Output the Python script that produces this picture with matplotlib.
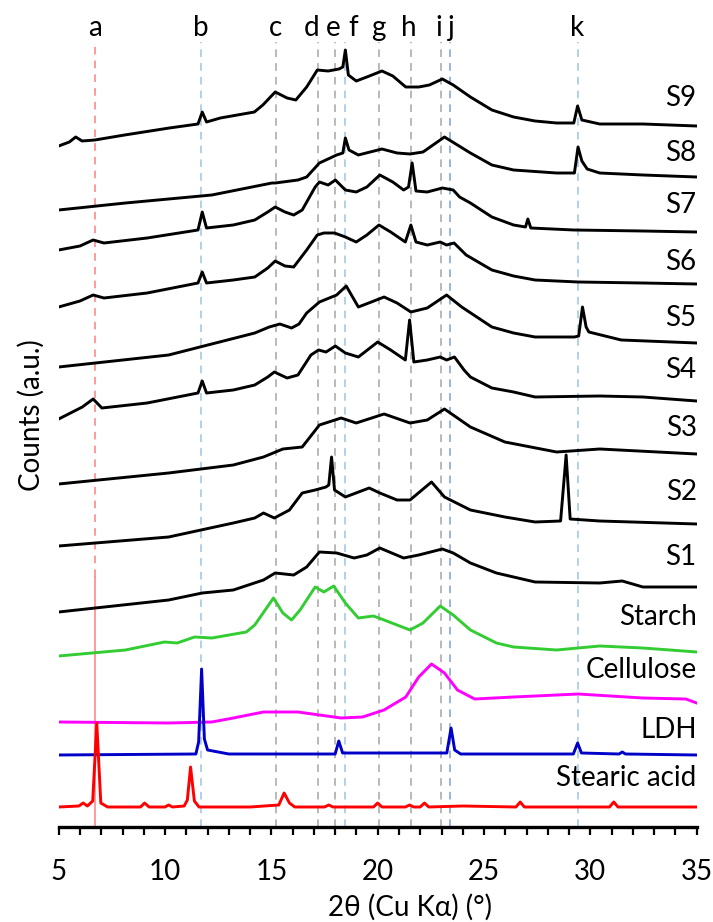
import matplotlib
matplotlib.use("Agg")
import matplotlib.pyplot as plt

plt.rcParams['font.family'] = ['Lato', 'DejaVu Sans']

# ---------------- data (stacked intensities, a.u.) ----------------
s9_x = [5.0, 5.5, 5.8, 6.1, 6.7, 8.1, 10.2, 11.55, 11.75, 11.95, 12.6, 14.2, 14.6, 15.18, 15.74, 16.15, 16.66,
        17.16, 17.67, 18.18, 18.36, 18.48, 18.62, 18.99, 19.49, 20.2, 20.71, 21.32, 21.93, 22.43, 23.04, 23.55,
        24.36, 25.37, 26.39, 27.4, 28.41, 29.22, 29.4, 29.6, 30.44, 32.47, 35.0]
s9_y = [681, 685, 690, 686, 687, 692, 699, 703, 715, 705, 709, 715, 722, 735, 729, 727, 740,
        757, 756, 758, 760, 777, 752, 746, 750, 756, 751, 740, 740, 742, 748, 742,
        730, 717, 710, 706, 704, 704, 721, 707, 703, 703, 701]

s8_x = [5.0, 8.14, 12.2, 15.03, 15.18, 16.25, 16.66, 17.26, 18.07, 18.36, 18.48, 18.65, 19.09, 20.2, 20.91,
        21.52, 22.13, 23.14, 24.36, 25.37, 26.39, 28.41, 29.25, 29.42, 29.6, 29.85, 30.44, 32.47, 35.0]
s8_y = [617, 624, 632, 644, 644, 647, 650, 664, 672, 674, 689, 677, 672, 678, 674,
        673, 675, 690, 674, 662, 657, 654, 654, 680, 666, 658, 654, 652, 650]

s7_x = [5.0, 6.0, 6.62, 7.13, 9.16, 11.55, 11.75, 11.95, 13.21, 14.22, 14.83, 15.18, 15.64, 16.05, 16.45,
        17.06, 17.26, 17.67, 18.01, 18.48, 18.99, 19.49, 20.1, 20.71, 21.22, 21.45, 21.62, 21.8, 22.33,
        23.04, 23.55, 23.85, 24.36, 25.37, 26.39, 26.95, 27.06, 27.2, 29.22, 32.47, 35.0]
s7_y = [577, 581, 587, 584, 589, 597, 615, 599, 602, 607, 615, 620, 615, 612, 617,
        640, 645, 642, 647, 637, 635, 640, 652, 645, 637, 640, 664, 636, 635,
        639, 637, 630, 624, 610, 602, 600, 608, 599, 597, 596, 595]

s6_x = [5.0, 6.0, 6.62, 7.13, 9.16, 11.55, 11.75, 11.95, 13.21, 14.22, 14.83, 15.18, 15.64, 16.05, 16.66,
        17.16, 17.47, 17.97, 18.48, 18.99, 19.49, 20.06, 20.61, 21.3, 21.56, 21.8, 22.33, 22.94, 23.24,
        23.59, 24.16, 25.37, 26.39, 27.4, 29.43, 32.47, 35.0]
s6_y = [520, 526, 532, 529, 534, 544, 555, 544, 547, 550, 559, 566, 561, 560, 577,
        592, 594, 594, 590, 585, 592, 602, 595, 585, 602, 585, 582, 585, 582,
        584, 572, 557, 551, 547, 545, 544, 543]

s5_x = [5.0, 10.17, 14.22, 14.9, 15.4, 15.95, 16.3, 16.66, 17.26, 18.07, 18.52, 19.09, 19.7, 20.3, 20.91,
        21.56, 22.33, 23.24, 23.95, 25.37, 26.39, 27.4, 29.25, 29.45, 29.63, 29.8, 29.93, 31.45, 35.0]
s5_y = [460, 472, 494, 500, 503, 499, 503, 514, 525, 532, 541, 520, 525, 530, 524,
        515, 519, 532, 520, 500, 494, 490, 490, 491, 520, 500, 495, 487, 484]

s4_x = [5.0, 6.11, 6.62, 7.03, 9.16, 11.55, 11.75, 11.95, 13.21, 14.22, 14.83, 15.14, 15.74, 16.25, 16.86,
        17.22, 17.57, 18.01, 18.48, 19.09, 20.0, 20.61, 21.3, 21.5, 21.7, 22.33, 22.94, 23.24, 23.61,
        24.06, 24.36, 25.37, 26.39, 27.4, 30.44, 32.47, 35.0]
s4_y = [408, 420, 428, 419, 424, 434, 446, 434, 437, 442, 450, 455, 449, 452, 472,
        477, 475, 481, 474, 470, 485, 477, 467, 507, 465, 467, 470, 467, 470,
        457, 450, 439, 435, 430, 431, 430, 426]

s3_x = [5.0, 10.17, 13.21, 14.63, 15.54, 16.45, 17.26, 18.28, 18.99, 20.3, 21.52, 22.33, 23.14, 24.36,
        25.98, 28.41, 30.44, 35.0]
s3_y = [343, 354, 362, 370, 378, 380, 402, 409, 404, 413, 404, 407, 418, 400,
        385, 375, 378, 373]

s2_x = [5.0, 10.17, 13.21, 14.22, 14.63, 15.14, 15.85, 16.45, 17.06, 17.57, 17.7, 17.83, 17.97, 18.48,
        19.6, 20.1, 20.91, 21.52, 22.53, 23.14, 24.36, 25.98, 27.4, 28.6, 28.86, 29.05, 30.44, 35.0]
s2_y = [281, 290, 304, 309, 314, 309, 317, 334, 337, 340, 342, 370, 337, 330,
        339, 334, 327, 327, 345, 330, 317, 310, 305, 306, 372, 308, 306, 303]

s1_x = [5.0, 10.17, 11.75, 13.21, 14.63, 15.18, 16.05, 16.66, 17.26, 18.07, 18.89, 19.49, 20.1, 21.22,
        21.93, 23.04, 23.55, 24.36, 25.58, 27.4, 30.44, 31.5, 32.47, 35.0]
s1_y = [215, 227, 234, 237, 247, 254, 252, 260, 275, 274, 269, 272, 279, 269,
        272, 278, 274, 264, 254, 245, 244, 246, 240, 240]

starch_x = [5.0, 8.14, 9.97, 10.57, 11.39, 12.2, 13.82, 14.22, 15.1, 15.54, 15.95, 16.35, 17.06, 17.47,
            17.93, 18.48, 19.09, 19.8, 20.3, 21.52, 22.13, 22.94, 23.55, 24.36, 25.58, 26.39, 28.41,
            30.44, 32.47, 35.0]
starch_y = [171, 177, 185, 184, 190, 189, 195, 202, 229, 214, 207, 217, 240, 235,
            241, 224, 209, 211, 207, 197, 204, 221, 212, 197, 184, 180, 177,
            181, 179, 175]

cell_x = [5.0, 10.17, 12.2, 13.21, 14.63, 16.25, 17.26, 18.28, 19.29, 20.3, 21.32, 21.93, 22.53, 23.14,
          23.75, 24.56, 26.39, 29.43, 32.47, 34.49, 35.0]
cell_y = [105, 104, 105, 109, 115, 115, 112, 109, 110, 117, 130, 150, 163, 154,
          137, 128, 130, 133, 129, 128, 124]

ldh_x = [5.0, 11.45, 11.58, 11.72, 11.85, 12.0, 12.5, 13.0, 18.0, 18.17, 18.35, 23.25, 23.45, 23.62, 23.9,
         29.2, 29.4, 29.58, 31.35, 31.5, 31.65, 35.0]
ldh_y = [72, 73, 85, 158, 88, 77, 75, 73, 73, 86, 74, 74, 99, 77, 73,
         73, 84, 74, 73, 75, 73, 72]

sa_x = [5.0, 5.95, 6.15, 6.35, 6.6, 6.79, 6.98, 7.3, 8.85, 9.04, 9.25, 10.0, 10.17, 10.35, 10.9, 11.05,
        11.2, 11.38, 11.6, 14.0, 15.35, 15.6, 15.85, 16.1, 17.5, 17.7, 17.9, 19.8, 20.0, 20.2, 21.3,
        21.5, 21.7, 22.0, 22.2, 22.4, 24.0, 26.5, 26.7, 26.9, 30.9, 31.1, 31.3, 35.0]
sa_y = [20, 21, 24, 21, 26, 104, 24, 20, 20, 24, 20, 20, 22, 20, 21, 27,
        60, 26, 20, 20, 22, 34, 24, 20, 20, 22, 20, 20, 24, 20, 20,
        22, 20, 20, 24, 20, 21, 20, 25, 20, 20, 25, 20, 20]

pattern_names = ['S9', 'S8', 'S7', 'S6', 'S5', 'S4', 'S3', 'S2', 'S1',
                 'Starch', 'Cellulose', 'LDH', 'Stearic acid']
pattern_x = [s9_x, s8_x, s7_x, s6_x, s5_x, s4_x, s3_x, s2_x, s1_x, starch_x, cell_x, ldh_x, sa_x]
pattern_y = [s9_y, s8_y, s7_y, s6_y, s5_y, s4_y, s3_y, s2_y, s1_y, starch_y, cell_y, ldh_y, sa_y]
pattern_colors = ['black'] * 9 + ['#33cc33', '#ff00ff', '#0000c8', '#ff0000']
label_y = [729, 674, 622, 565, 509, 457, 399, 335, 270, 210, 157, 97, 49]

ref_letters = ['a', 'b', 'c', 'd', 'e', 'f', 'g', 'h', 'i', 'j', 'k']
ref_pos = [6.7, 11.7, 15.2, 17.2, 18.0, 18.45, 20.05, 21.55, 22.97, 23.42, 29.4]
letter_pos = [6.7, 11.7, 15.18, 16.87, 17.9, 18.84, 20.03, 21.44, 22.85, 23.45, 29.4]
ref_colors = ['#ff8080', '#9dc3e6', '#a6a6a6', '#a6a6a6', '#a6a6a6', '#9dc3e6', '#a6a6a6',
              '#a6a6a6', '#a6a6a6', '#7f9fd6', '#9dc3e6']

# ---------------- figure ----------------
W, H = 713, 922
fig = plt.figure(figsize=(W / 100, H / 100), dpi=100)
ax = fig.add_axes([58.7 / W, 95 / H, 638 / W, 787 / H])
ax.set_xlim(5, 35)
ax.set_ylim(0, 787)

for i, (xp, c) in enumerate(zip(ref_pos, ref_colors)):
    if i == 0:
        # line a turns solid in the lower part of the chart
        ax.plot([xp, xp], [250, 785], color=c, lw=1.1, dashes=(5, 4), zorder=1)
        ax.plot([xp, xp], [0, 250], color=c, lw=1.1, zorder=1)
    else:
        ax.plot([xp, xp], [0, 785], color=c, lw=1.1, dashes=(5, 4), zorder=1)

for xs, ys, c in zip(pattern_x, pattern_y, pattern_colors):
    ax.plot(xs, ys, color=c, lw=2.1, solid_joinstyle='round', zorder=3)

for name, ly in zip(pattern_names, label_y):
    ax.text(35.0, ly, name, ha='right', va='center', fontsize=20, zorder=4)

for lt, xp in zip(ref_letters, letter_pos):
    ax.text(xp, 799, lt, ha='center', va='center', fontsize=20, clip_on=False)

for s in ['left', 'right', 'top']:
    ax.spines[s].set_visible(False)
ax.spines['bottom'].set_linewidth(2.4)
ax.set_yticks([])
ax.set_xticks(range(5, 36, 5))
ax.set_xticks(range(5, 36, 1), minor=True)
ax.tick_params(axis='x', which='both', direction='out', length=6, width=1.6, color='black')
ax.tick_params(axis='x', which='major', labelsize=20, pad=17)

fig.text(410 / W, 1 - 907 / H, '2θ (Cu Kα) (°)', ha='center', va='center', fontsize=20)
fig.text(31 / W, 1 - 415 / H, 'Counts (a.u.)', ha='center', va='center', rotation=90, fontsize=20)

fig.savefig('out.png', dpi=100)
